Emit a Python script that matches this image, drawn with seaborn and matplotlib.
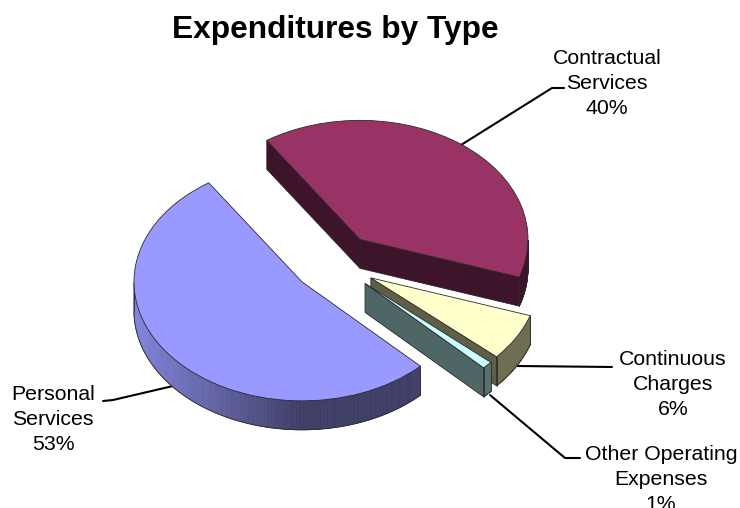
import numpy as np
import matplotlib
matplotlib.use("Agg")
import matplotlib.pyplot as plt
from matplotlib.collections import PolyCollection
from matplotlib.colors import to_rgb
from matplotlib.lines import Line2D
from matplotlib.transforms import Affine2D
import seaborn as sns

categories = ["Contractual\nServices", "Continuous\nCharges",
              "Other Operating\nExpenses", "Personal\nServices"]
values = [39.5, 6.4, 1.0, 53.1]
top_hex = ["#993366", "#FFFFCC", "#CCFFFF", "#9999FF"]
radial_hex = ["#3D1429", "#5F5F47", "#4F6666", "#3D3D66"]
rim_hex = ["#3D1429", "#6E6E52", "#557070", "#3D3D66"]

W, H = 740, 508
CX, CY, RX, RY = 334.5, 263.0, 168.0, 119.0
DEPTH = 29.0 / RY
EDGE = "#2A2A2A"

sns.set_theme(style="white")
plt.rcParams["font.family"] = ["Liberation Sans", "DejaVu Sans"]

fig = plt.figure(figsize=(W / 100, H / 100), dpi=100, facecolor="white")
ax = fig.add_axes([0, 0, 1, 1])
wedges, _ = ax.pie(values, explode=[0.25] * len(values), radius=1.0,
                   startangle=123.7, counterclock=False,
                   colors=sns.color_palette(top_hex),
                   wedgeprops=dict(edgecolor=EDGE, linewidth=0.6))
ax.set_aspect("auto")
ax.set_xlim(-CX / RX, (W - CX) / RX)
ax.set_ylim((CY - H) / RY, CY / RY)
ax.axis("off")

px = Affine2D().scale(1 / W, -1 / H).translate(0, 1) + fig.transFigure


def lerp_rim(x_px):
    a = np.array(to_rgb("#8484DC"))
    b = np.array(to_rgb("#3D3D66"))
    t = np.clip((x_px - 135) / (300 - 135), 0, 1)
    return tuple(a + (b - a) * t)


# side walls are extruded from each wedge's own geometry, painter-style;
# only faces turned towards the viewer are drawn
order = {0: 2, 3: 4, 1: 6, 2: 8}
for i, w in enumerate(wedges):
    z = order[i]
    w.set_zorder(z + 1)
    cx, cy = w.center
    th = np.radians(np.linspace(w.theta1, w.theta2, 400))
    th = th[np.sin(th) < 0]
    if len(th) > 1:
        xs, ys = cx + np.cos(th), cy + np.sin(th)
        polys, cols = [], []
        for k in range(len(th) - 1):
            polys.append([(xs[k], ys[k]), (xs[k + 1], ys[k + 1]),
                          (xs[k + 1], ys[k + 1] - DEPTH), (xs[k], ys[k] - DEPTH)])
            if i == 3:
                cols.append(lerp_rim(CX + RX * xs[k]))
            else:
                cols.append(to_rgb(rim_hex[i]))
        ax.add_collection(PolyCollection(polys, facecolors=cols, edgecolors=cols,
                                         linewidths=0.5, zorder=z))
        ax.plot(xs, ys - DEPTH, color=EDGE, lw=0.6, zorder=z)
        for k in (0, -1):
            ax.plot([xs[k], xs[k]], [ys[k], ys[k] - DEPTH], color=EDGE, lw=0.6, zorder=z)
    for ang, sign in ((w.theta1, 1), (w.theta2, -1)):
        if sign * np.cos(np.radians(ang)) <= 0:
            continue
        ex = cx + np.cos(np.radians(ang))
        ey = cy + np.sin(np.radians(ang))
        ax.fill([cx, ex, ex, cx], [cy, ey, ey - DEPTH, cy - DEPTH],
                facecolor=radial_hex[i], edgecolor=EDGE, linewidth=0.6, zorder=z)

# leader lines
leaders = [[(461, 145), (552, 88), (564, 88)],
           [(517, 366), (612, 367)],
           [(490, 395), (565, 458), (580, 458)],
           [(173, 386), (113, 400), (103, 401)]]
for pts in leaders:
    xx, yy = zip(*pts)
    fig.add_artist(Line2D(xx, yy, transform=px, color="black", lw=1.5, zorder=1))
ax.set_zorder(2)
ax.patch.set_visible(False)

label_pos = [(607, 83.5), (673, 384.5), (661, 479.5), (53, 419.5)]
for cat, val, (lx, ly) in zip(categories, values, label_pos):
    ax.text(lx, ly, f"{cat}\n{round(val)}%", transform=px, ha="center", va="center",
            fontsize=15.3, color="black", linespacing=1.38, zorder=20, clip_on=False)

ax.text(335.5, 30, "Expenditures by Type", transform=px, ha="center", va="center",
        fontsize=22.8, fontweight="bold", color="black", zorder=20)

fig.savefig("out.png", dpi=100, facecolor="white")
